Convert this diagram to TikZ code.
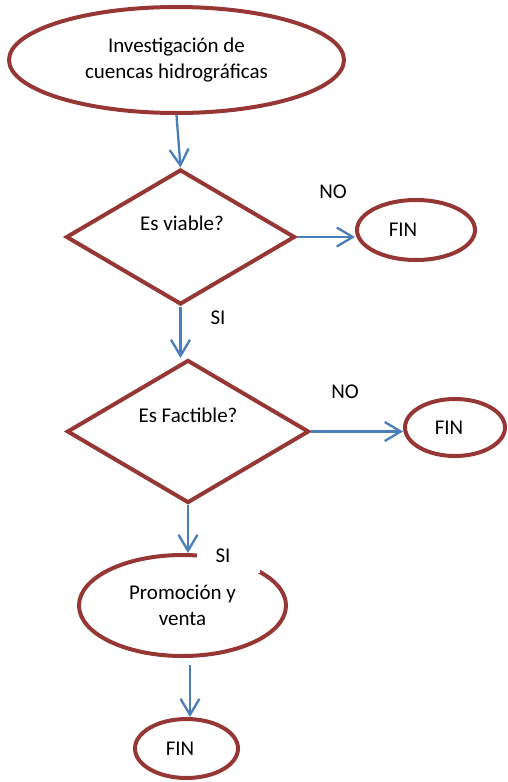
\documentclass[tikz,border=0pt]{standalone}
\usepackage{fontspec}
\setmainfont{Carlito}
\usetikzlibrary{shapes.geometric,arrows.meta}
\definecolor{boxred}{RGB}{150,55,53}
\definecolor{arrowblue}{RGB}{74,126,187}

\begin{document}
\begin{tikzpicture}[x=1pt, y=-1pt, font=\fontsize{21}{26}\selectfont,
    term/.style={ellipse, draw=boxred, line width=4pt, inner sep=0pt, align=center},
    decision/.style={diamond, draw=boxred, line width=4pt, inner sep=0pt},
    arr/.style={draw=arrowblue, line width=2.3pt, -{Straight Barb[length=16pt,width=19pt]}}]
       \useasboundingbox (0,0) rectangle (507,782);
       \node[term, minimum width=335pt, minimum height=106pt] (inv) at (176.5, 60) {Investigación de\\cuencas hidrográficas};
       \node[decision, minimum width=229pt, minimum height=135pt] (via) at (180.5, 237) {};
       \node (viatext) at (182, 223) {Es viable?};
       \node[term, minimum width=118pt, minimum height=60pt] (fin1) at (416, 230) {FIN\hspace*{26pt}};
       \node[decision, minimum width=242pt, minimum height=143pt] (fac) at (188, 431.5) {};
       \node (factext) at (188, 415) {Es Factible?};
       \node[term, minimum width=100pt, minimum height=57pt] (fin2) at (455, 427.5) {FIN\hspace*{12pt}};
       \node[term, minimum width=207pt, minimum height=101pt] (prom) at (182.5, 605.5) {Promoción y\\venta};
       \node[term, minimum width=103pt, minimum height=59pt] (fin3) at (186.5, 748.5) {FIN\hspace*{13pt}};

       \node (no1) at (333, 192) {NO};
       \node (si1) at (218, 318) {SI};
       \node (no2) at (345, 392) {NO};
       \node[fill=white, minimum width=63pt, minimum height=34pt, inner sep=0pt] (si2) at (228.5, 556) {SI\hspace*{11pt}};

       \draw[arr] (inv.south) -- (via.north);
       \draw[arr] (via.east) -- (via.east -| fin1.west);
       \draw[arr] (via.south) -- (via.south |- fac.north);
       \draw[arr] (fac.east) -- (fac.east -| fin2.west);
       \draw[arr] (fac.south) -- (fac.south |- prom.north);
       \coordinate (c6) at (190, 665);
       \draw[arr] (c6) -- (c6 |- fin3.north);
     \end{tikzpicture}
\end{document}
